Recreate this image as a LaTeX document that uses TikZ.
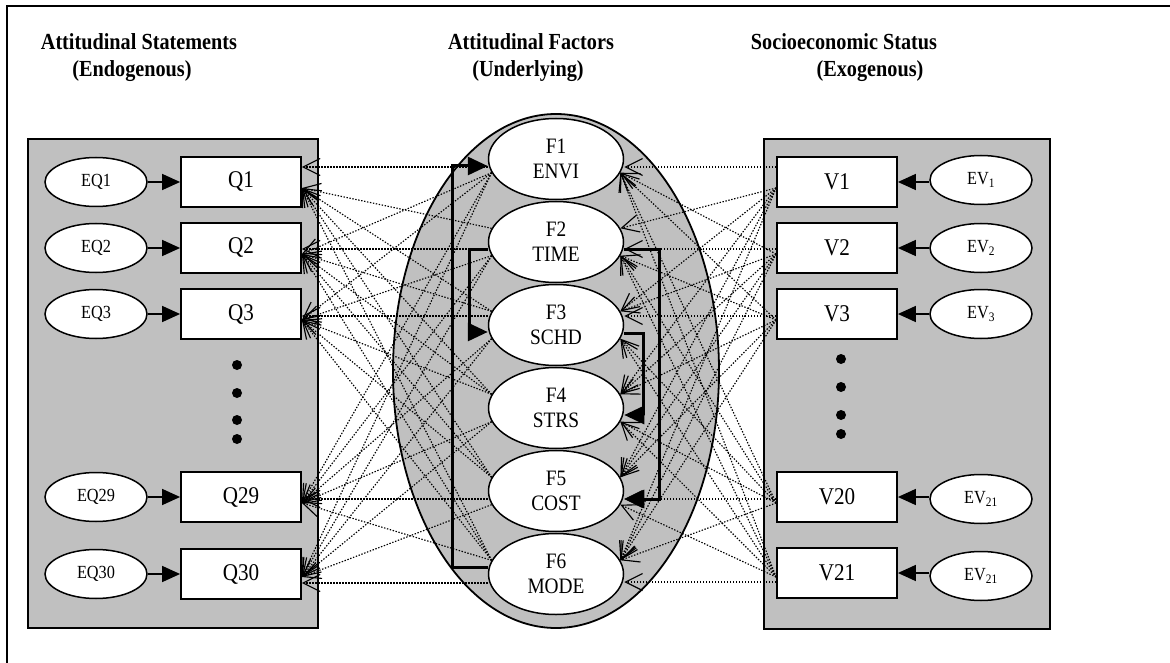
\documentclass[tikz,border=0pt]{standalone}
\usepackage{fontspec}
\setmainfont{Liberation Serif}[FakeStretch=0.88]
\usetikzlibrary{arrows.meta,shapes.geometric,calc}
\definecolor{panelgrey}{RGB}{192,192,192}
\pgfdeclarelayer{back}
\pgfdeclarelayer{mid}
\pgfsetlayers{back,mid,main}
\begin{document}
\begin{tikzpicture}[x=1pt,y=-1pt,
 panel/.style={draw=black,fill=panelgrey,line width=1.8pt},
 box/.style={draw,fill=white,line width=1.8pt,minimum width=120pt,minimum height=50pt,inner sep=0pt,font=\fontsize{24}{26}\selectfont},
 err/.style={ellipse,draw,fill=white,line width=1.5pt,minimum width=102pt,minimum height=49pt,inner sep=0pt,font=\fontsize{18.5}{20}\selectfont},
 fac/.style={ellipse,draw,fill=white,line width=1.5pt,minimum width=135pt,minimum height=81pt,inner sep=0pt,align=center,font=\fontsize{22}{25}\selectfont},
 errarrow/.style={line width=1.5pt,-{Triangle[length=18pt,width=16pt]}},
 thickarrow/.style={line width=3pt,-{Triangle[length=20pt,width=18pt]}},
 dotl/.style={line width=1.15pt,dash pattern=on 1.4pt off 1.6pt,-{Straight Barb[length=17pt,width=17pt]}},
 title/.style={font=\bfseries\fontsize{23}{26}\selectfont,anchor=base,inner sep=0pt}]

\useasboundingbox (0,0) rectangle (1170,663);

% frame
\draw[line width=2pt] (7,663) -- (7,6) -- (1170,6);

% titles
\node[title] (t1a) at (139,50) {Attitudinal Statements};
\node[title] (t1b) at (132,77) {(Endogenous)};
\node[title] (t2a) at (531,50) {Attitudinal Factors};
\node[title] (t2b) at (528,77) {(Underlying)};
\node[title] (t3a) at (844,50) {Socioeconomic Status};
\node[title] (t3b) at (870,77) {(Exogenous)};

% backgrounds
\begin{pgfonlayer}{back}
\draw[panel] (28,139) rectangle (318,628);
\draw[panel] (764,139) rectangle (1050,629);
\draw[panel] (556,371) ellipse [x radius=163pt, y radius=257pt];
\end{pgfonlayer}

% left side
\node[box] (Q1) at (241,182) {Q1};
\node[box] (Q2) at (241,248) {Q2};
\node[box] (Q3) at (241,314) {Q3};
\node[box] (Q29) at (241,497) {Q29};
\node[box] (Q30) at (241,574) {Q30};
\node[err] (EQ1) at (96,182) {EQ1};
\node[err] (EQ2) at (96,248) {EQ2};
\node[err] (EQ3) at (96,314) {EQ3};
\node[err] (EQ29) at (96,497) {EQ29};
\node[err] (EQ30) at (96,574) {EQ30};
\foreach \n in {1,2,3,29,30}{\draw[errarrow] (EQ\n) -- (Q\n);}
\foreach \y in {365,393,420,439}{\fill (237,\y) circle [radius=5pt];}

% right side
\node[box] (V1) at (837,182) {V1};
\node[box] (V2) at (837,248) {V2};
\node[box] (V3) at (837,314) {V3};
\node[box] (V20) at (837,497) {V20};
\node[box] (V21) at (837,573) {V21};
\node[err] (EV1) at (981,180) {EV\textsubscript{1}};
\node[err] (EV2) at (981,248) {EV\textsubscript{2}};
\node[err] (EV3) at (981,314) {EV\textsubscript{3}};
\node[err] (EV20) at (981,499) {EV\textsubscript{21}};
\node[err] (EV21) at (981,576) {EV\textsubscript{21}};
\foreach \n in {1,2,3,20,21}{\draw[errarrow] (EV\n.west |- V\n.east) -- (V\n);}
\foreach \y in {359,387,415,434}{\fill (841,\y) circle [radius=5pt];}

% factors
\node[fac] (F1) at (556,159) {F1\\ENVI};
\node[fac] (F2) at (556,242) {F2\\TIME};
\node[fac] (F3) at (556,325) {F3\\SCHD};
\node[fac] (F4) at (556,408) {F4\\STRS};
\node[fac] (F5) at (556,491) {F5\\COST};
\node[fac] (F6) at (556,574) {F6\\MODE};

% dotted loadings
\begin{pgfonlayer}{mid}
\foreach \q/\fs/\p/\hs/\fh in {Q1/-6/1/15/-8, Q2/-6/2/-1/-7, Q3/-6/3/-2/9, Q29/-6/5/-2/-8, Q30/-3/6/-9/-9}{
  \draw[dotl] ([yshift=\fh pt]F\p.west) -- ([yshift=\hs pt]\q.east);
  \foreach \f in {1,...,6}{
    \ifnum\f=\p\relax\else
      \ifnum\f>\p\relax
        \draw[dotl] (F\f.168) -- ([yshift=\fs pt]\q.east);
      \else
        \draw[dotl] (F\f.192) -- ([yshift=\fs pt]\q.east);
      \fi
    \fi
  }
}
\foreach \v/\fs/\p/\hs/\fh in {V1/-6/1/15/-8, V2/-6/2/-1/-7, V3/-6/3/-2/9, V20/-6/5/-2/-8, V21/-4/6/-9/-8}{
  \draw[dotl] ([yshift=\hs pt]\v.west) -- ([yshift=\fh pt]F\p.east);
  \foreach \f in {1,...,6}{
    \ifnum\f=\p\relax\else
      \ifnum\f>\p\relax
        \draw[dotl] ([yshift=\fs pt]\v.west) -- (F\f.12);
      \else
        \draw[dotl] ([yshift=\fs pt]\v.west) -- (F\f.-12);
      \fi
    \fi
  }
}
\end{pgfonlayer}

% structural paths
\draw[thickarrow] ([yshift=7pt]F6.west) -- ++(-35,0) |- ([yshift=-7pt]F1.west);
\draw[thickarrow] ([yshift=-8pt]F2.west) -- ++(-18,0) |- ([yshift=-7pt]F3.west);
\draw[thickarrow] ([yshift=-8pt]F2.east) -- ++(35,0) |- ([yshift=-8pt]F5.east);
\draw[thickarrow] ([yshift=-8pt]F3.east) -- ++(19,0) |- ([yshift=-7pt]F4.east);
\end{tikzpicture}
\end{document}
